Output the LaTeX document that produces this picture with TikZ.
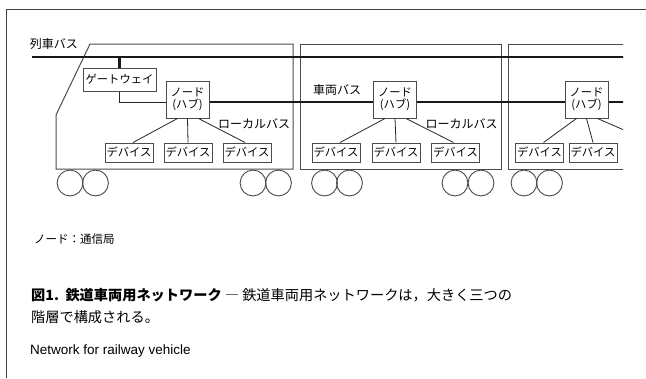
\documentclass[tikz,border=0pt]{standalone}
\usepackage{fontspec}
\newfontfamily\jpfont{Noto Sans CJK JP}
\newfontfamily\latinsans{Liberation Sans}
\begin{document}
\begin{tikzpicture}[x=1pt,y=-1pt,
  frame/.style={draw=black!75, line width=0.9pt},
  outline/.style={draw=black!70, line width=1pt},
  bus/.style={draw=black!90, line width=2.2pt},
  link/.style={draw=black!85, line width=0.8pt},
  box/.style={draw=black!70, line width=1pt, fill=white, inner sep=0pt,
    font=\jpfont\fontsize{11.3}{12.5}\selectfont},
  devbox/.style={box, minimum width=48pt, minimum height=19pt},
  hubbox/.style={box, minimum width=43pt, minimum height=37pt, align=center},
  gwbox/.style={box, minimum width=73pt, minimum height=23pt},
  lbl/.style={inner sep=0pt, font=\jpfont\fontsize{12}{14}\selectfont},
  wheel/.style={draw=black!70, line width=0.9pt}
]
\useasboundingbox (0,0) rectangle (646,378);
\fill[white] (0,0) rectangle (646,378);

% page frame
\draw[frame] (6,378) -- (6,9) -- (646,9);

\begin{scope}
\clip (0,0) rectangle (623,378);

% car bodies
\draw[outline] (90,44) -- (293,44) -- (293,169) -- (56,169) -- (56,115) -- cycle;
\draw[outline] (300,44) rectangle (501,169);
\draw[outline] (640,44) -- (508,44) -- (508,169) -- (640,169);

% wheels
\foreach \cx in {70,95.5,253,278.5,324.5,349.5,455,481,524,549.5}
  \draw[wheel] (\cx,183) circle [radius=12.9pt];

% train bus
\coordinate (tbL) at (32,57);
\coordinate (tbR) at (640,57);
\draw[bus] (tbL) -- (tbR);

% vehicle bus level
\coordinate (vbR) at (640,102);

% gateway and hubs
\node[gwbox] (gw) at (119.5,79.5) {ゲートウェイ};
\node[hubbox] (hub1) at (187.5,99.5) {ノード\\(ハブ)};
\node[hubbox] (hub2) at (395,99.5) {ノード\\(ハブ)};
\node[hubbox] (hub3) at (586.5,99.5) {ノード\\(ハブ)};

\draw[bus] (gw.north) -- (gw.north |- tbL);
\draw[link] (gw.south) |- (hub1.west |- vbR);
\draw[bus] (hub1.east |- vbR) -- (hub2.west |- vbR);
\draw[bus] (hub2.east |- vbR) -- (hub3.west |- vbR);
\draw[bus] (hub3.east |- vbR) -- (vbR);

% devices
\node[devbox] (d11) at (129,152.5) {デバイス};
\node[devbox] (d12) at (188,152.5) {デバイス};
\node[devbox] (d13) at (247,152.5) {デバイス};
\node[devbox] (d21) at (336,152.5) {デバイス};
\node[devbox] (d22) at (396,152.5) {デバイス};
\node[devbox] (d23) at (455.5,152.5) {デバイス};
\node[devbox] (d31) at (539.5,152.5) {デバイス};
\node[devbox] (d32) at (593,152.5) {デバイス};
\coordinate (d33) at (654,143);

% local buses
\foreach \h/\a/\b/\c in {hub1/d11/d12/d13, hub2/d21/d22/d23}{
  \draw[link] ([xshift=-10pt]\h.south) -- ([xshift=4pt]\a.north);
  \draw[link] (\h.south) -- (\b.north);
  \draw[link] ([xshift=11pt]\h.south) -- ([xshift=-2pt]\c.north);
}
\draw[link] ([xshift=-10pt]hub3.south) -- ([xshift=4pt]d31.north);
\draw[link] (hub3.south) -- (d32.north);
\draw[link] ([xshift=11pt]hub3.south) -- (d33);

% bus labels
\node[lbl] (ltb) at (54,44) {列車バス};
\node[lbl] (lvb) at (337,90) {車両バス};
\node[lbl] (llb1) at (254,124) {ローカルバス};
\node[lbl] (llb2) at (461.5,124) {ローカルバス};
\end{scope}

% legend and caption
\node[anchor=west, inner sep=0pt, font=\jpfont\fontsize{11.5}{14}\selectfont] (legend) at (34,239) {ノード：通信局};
\node[anchor=west, inner sep=0pt, font=\jpfont\fontsize{14.2}{17}\selectfont] (cap1) at (31,295)
  {\textbf{図1.\ \ 鉄道車両用ネットワーク} ― 鉄道車両用ネットワークは，大きく三つの};
\node[anchor=west, inner sep=0pt, font=\jpfont\fontsize{14.2}{17}\selectfont] (cap2) at (31,317) {階層で構成される。};
\node[anchor=west, inner sep=0pt, font=\latinsans\fontsize{13.5}{16}\selectfont] (cap3) at (30,351) {Network for railway vehicle};
\end{tikzpicture}
\end{document}
